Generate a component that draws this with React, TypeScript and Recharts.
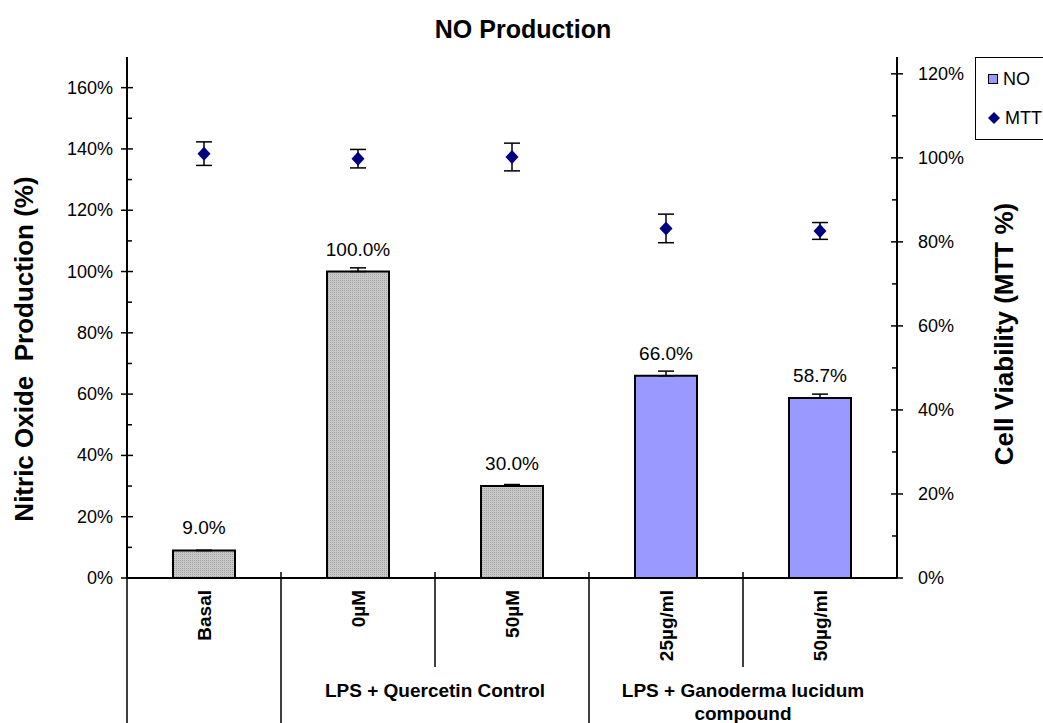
import React from 'react';
import { ComposedChart, Bar, Line, XAxis, YAxis, Cell, ErrorBar, LabelList, Legend, Label } from 'recharts';

const categories = ['Basal', '0µM', '50µM', '25µg/ml', '50µg/ml'];
// which group each category belongs to (index into groupLabels)
const categoryGroup = [0, 1, 1, 2, 2];
const groupLabels = [[], ['LPS + Quercetin Control'], ['LPS + Ganoderma lucidum', 'compound']];

const noValues = [9.0, 100.0, 30.0, 66.0, 58.7];
const noErrors = [0, 1.2, 0.5, 1.5, 1.3];
const mttValues = [101.0, 99.8, 100.2, 83.2, 82.6];
const mttErrors = [2.8, 2.2, 3.3, 3.4, 2.0];

const leftTicks = [0, 10, 20, 30, 40, 50, 60, 70, 80, 90, 100, 110, 120, 130, 140, 150, 160];
const rightTicks = [0, 10, 20, 30, 40, 50, 60, 70, 80, 90, 100, 110, 120];

const W = 1043;
const H = 723;
const M = { top: 57, left: 17, right: 76, bottom: 0 };
const LEFT_W = 110;
const RIGHT_W = 70;
const X_H = 145;
const PLOT_W = W - M.left - M.right - LEFT_W - RIGHT_W;
const FONT = 'Liberation Sans, Arial, sans-serif';

const groupFill = ['url(#greyDots)', 'url(#greyDots)', '#9999ff'];

const data = categories.map((name, i) => ({
  name,
  no: noValues[i],
  noErr: [0, noErrors[i]],
  mtt: mttValues[i],
  mttErr: mttErrors[i],
}));

const CategoryTick = (props: any) => {
  const { x, y, payload, index } = props;
  const band = PLOT_W / categories.length;
  const g = categoryGroup[index];
  const parts: React.ReactNode[] = [];
  const ty = y + 12;
  parts.push(
    <text key="t" x={x} y={ty} transform={`rotate(-90 ${x} ${ty})`} textAnchor="end" dominantBaseline="central"
      fontFamily={FONT} fontWeight="bold" fontSize={19} fill="#000">{payload.value}</text>
  );
  if (index === 0) {
    parts.push(<line key="l0" x1={x - band / 2} x2={x - band / 2} y1={y} y2={y + X_H} stroke="#000" strokeWidth={1.5} />);
  }
  if (index < categories.length - 1) {
    const same = categoryGroup[index + 1] === g;
    const bx = x + band / 2;
    parts.push(<line key="sep" x1={bx} x2={bx} y1={y - 6} y2={y + (same ? 89 : X_H)} stroke="#000" strokeWidth={1.5} />);
  }
  const first = index === 0 || categoryGroup[index - 1] !== g;
  if (first && groupLabels[g].length) {
    const count = categoryGroup.filter((v) => v === g).length;
    const cx = x + ((count - 1) * band) / 2;
    groupLabels[g].forEach((ln, k) => {
      parts.push(
        <text key={'g' + k} x={cx} y={y + 112 + k * 23} textAnchor="middle" dominantBaseline="central"
          fontFamily={FONT} fontWeight="bold" fontSize={19} fill="#000">{ln}</text>
      );
    });
  }
  return <g>{parts}</g>;
};

const LeftTick = (props: any) => {
  const { x, y, payload } = props;
  const ax = x + 14;
  const major = payload.value % 20 === 0;
  return (
    <g>
      {major ? <line x1={ax - 6} x2={ax + 6} y1={y} y2={y} stroke="#000" strokeWidth={1.5} />
        : <line x1={ax} x2={ax + 5} y1={y} y2={y} stroke="#000" strokeWidth={1.5} />}
      {major && (
        <text x={x} y={y} textAnchor="end" dominantBaseline="central" fontFamily={FONT} fontSize={18} fill="#000">
          {payload.value}%
        </text>
      )}
    </g>
  );
};

const RightTick = (props: any) => {
  const { x, y, payload } = props;
  const ax = x - 21;
  const major = payload.value % 20 === 0;
  return (
    <g>
      {major ? <line x1={ax - 6} x2={ax + 6} y1={y} y2={y} stroke="#000" strokeWidth={1.5} />
        : <line x1={ax - 5} x2={ax} y1={y} y2={y} stroke="#000" strokeWidth={1.5} />}
      {major && (
        <text x={x} y={y} textAnchor="start" dominantBaseline="central" fontFamily={FONT} fontSize={18} fill="#000">
          {payload.value}%
        </text>
      )}
    </g>
  );
};

const Diamond = (props: any) => {
  const { cx, cy } = props;
  if (cx == null || cy == null) return null;
  return <path d={`M${cx},${cy - 7} L${cx + 6.5},${cy} L${cx},${cy + 7} L${cx - 6.5},${cy} Z`} fill="#000080" />;
};

const LegendBox = () => (
  <div style={{ border: '1px solid #000', background: '#fff', width: 90, height: 83, fontFamily: FONT, fontSize: 18, boxSizing: 'border-box' }}>
    <div style={{ display: 'flex', alignItems: 'center', height: 42, paddingLeft: 12 }}>
      <span style={{ width: 8, height: 8, background: '#9999ff', border: '1.5px solid #000', marginRight: 5 }} />
      <span>NO</span>
    </div>
    <div style={{ display: 'flex', alignItems: 'center', height: 36, paddingLeft: 11 }}>
      <svg width={14} height={14} style={{ marginRight: 4 }}>
        <path d="M7,1 L13,7 L7,13 L1,7 Z" fill="#000080" />
      </svg>
      <span>MTT</span>
    </div>
  </div>
);

export default function App() {
  return (
    <div style={{ position: 'absolute', left: 0, top: 0, width: W, height: H, background: '#fff', overflow: 'hidden', fontFamily: FONT }}>
      <div style={{ position: 'absolute', left: 0, top: 14, width: 1046, textAlign: 'center', fontWeight: 'bold', fontSize: 25, lineHeight: '30px' }}>
        NO Production
      </div>
      <ComposedChart width={W} height={H} data={data} margin={M} barCategoryGap={0}>
        <defs>
          <pattern id="greyDots" width={2} height={2} patternUnits="userSpaceOnUse">
            <rect width={2} height={2} fill="#c8c8c8" />
            <rect width={1} height={1} fill="#a4a4a4" />
          </pattern>
        </defs>
        <XAxis dataKey="name" height={X_H} tickLine={false} tickSize={0} tickMargin={0} interval={0}
          axisLine={{ stroke: '#000', strokeWidth: 2 }} tick={<CategoryTick />} />
        <YAxis yAxisId="left" orientation="left" width={LEFT_W} domain={[0, 170]} ticks={leftTicks} interval={0}
          tickLine={false} tickSize={8} tickMargin={6} axisLine={{ stroke: '#000', strokeWidth: 2 }} tick={<LeftTick />}>
          <Label content={(p: any) => {
            const vb = p.viewBox;
            const lx = vb.x + 7;
            const ly = vb.y + 292;
            return (
              <text x={lx} y={ly} transform={`rotate(-90 ${lx} ${ly})`} textAnchor="middle" dominantBaseline="central"
                fontFamily={FONT} fontWeight="bold" fontSize={26} fill="#000" style={{ whiteSpace: 'pre' }}>
                {'Nitric Oxide  Production (%)'}
              </text>
            );
          }} />
        </YAxis>
        <YAxis yAxisId="right" orientation="right" width={RIGHT_W} domain={[0, 124]} ticks={rightTicks} interval={0}
          tickLine={false} tickSize={8} tickMargin={13} axisLine={{ stroke: '#000', strokeWidth: 2 }} tick={<RightTick />}>
          <Label content={(p: any) => {
            const vb = p.viewBox;
            const lx = vb.x + 107;
            const ly = vb.y + 277;
            return (
              <text x={lx} y={ly} transform={`rotate(-90 ${lx} ${ly})`} textAnchor="middle" dominantBaseline="central"
                fontFamily={FONT} fontWeight="bold" fontSize={26} fill="#000">
                Cell Viability (MTT %)
              </text>
            );
          }} />
        </YAxis>
        <Legend layout="vertical" align="center" verticalAlign="middle" content={<LegendBox />}
          wrapperStyle={{ left: 975, top: 57, width: 90 }} />
        <Bar yAxisId="left" dataKey="no" name="NO" barSize={62} stroke="#000" strokeWidth={2} isAnimationActive={false}>
          {data.map((d, i) => (
            <Cell key={d.name} fill={groupFill[categoryGroup[i]]} />
          ))}
          <ErrorBar dataKey="noErr" width={8} stroke="#000" strokeWidth={1.5} direction="y" />
          <LabelList dataKey="no" position="top" offset={16} fontFamily={FONT} fontSize={19} fill="#000"
            formatter={(v: any) => `${Number(v).toFixed(1)}%`} />
        </Bar>
        <Line yAxisId="right" dataKey="mtt" name="MTT" stroke="none" dot={<Diamond />} activeDot={false}
          legendType="diamond" isAnimationActive={false}>
          <ErrorBar dataKey="mttErr" width={8} stroke="#000" strokeWidth={1.5} direction="y" />
        </Line>
      </ComposedChart>
    </div>
  );
}
